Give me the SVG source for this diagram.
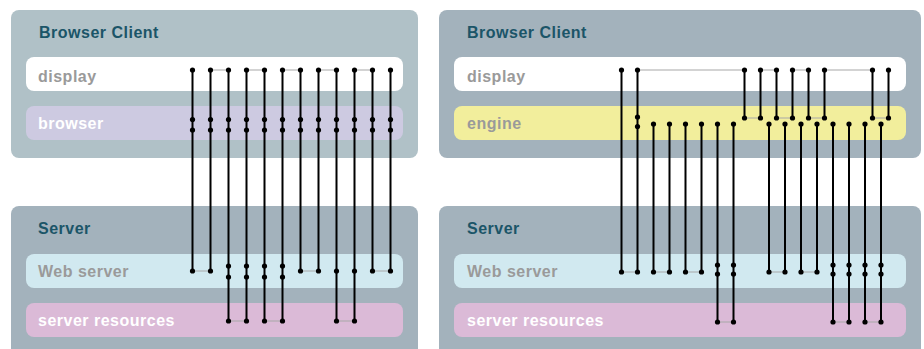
<svg xmlns="http://www.w3.org/2000/svg" width="924" height="349" viewBox="0 0 924 349">
<style>
.title{font-family:"Liberation Sans",Arial,sans-serif;font-weight:bold;font-size:16px;letter-spacing:0.5px;fill:#1b5568}
.lbl{font-family:"Liberation Sans",Arial,sans-serif;font-weight:bold;font-size:16px;letter-spacing:0.5px}
.g{fill:#9a9a9a}
.w{fill:#ffffff}
.v{stroke:#000;stroke-width:2;fill:none}
.h{stroke:#a8a8a8;stroke-width:1.2;fill:none}
.d{fill:#000}
</style>
<rect width="924" height="349" fill="#ffffff"/>
<g id="left-client">
<rect x="11" y="10" width="407" height="148" rx="8" fill="#b0c1c7"/>
<text class="title" x="39" y="38">Browser Client</text>
</g>
<g id="left-display">
<rect x="26" y="57" width="377" height="34" rx="8" fill="#ffffff"/>
<text class="lbl g" x="38" y="82">display</text>
</g>
<g id="left-browser">
<rect x="26" y="106" width="377" height="34" rx="8" fill="#cdcae1"/>
<text class="lbl w" x="38" y="129">browser</text>
</g>
<g id="left-server">
<rect x="11" y="206" width="407" height="150" rx="8" fill="#a3b2bc"/>
<text class="title" x="38" y="234">Server</text>
</g>
<g id="left-webserver">
<rect x="26" y="254" width="377" height="34" rx="8" fill="#d1e9f0"/>
<text class="lbl g" x="38" y="277">Web server</text>
</g>
<g id="left-resources">
<rect x="26" y="303" width="377" height="34" rx="8" fill="#dbbad7"/>
<text class="lbl w" x="38" y="326">server resources</text>
</g>
<g id="right-client">
<rect x="439" y="10" width="482" height="148" rx="8" fill="#a3b2bc"/>
<text class="title" x="467" y="38">Browser Client</text>
</g>
<g id="right-display">
<rect x="454" y="57" width="452" height="34" rx="8" fill="#ffffff"/>
<text class="lbl g" x="467" y="82">display</text>
</g>
<g id="right-engine">
<rect x="454" y="106" width="452" height="34" rx="8" fill="#f2ee9c"/>
<text class="lbl g" x="467" y="129">engine</text>
</g>
<g id="right-server">
<rect x="439" y="206" width="482" height="150" rx="8" fill="#a3b2bc"/>
<text class="title" x="467" y="234">Server</text>
</g>
<g id="right-webserver">
<rect x="454" y="254" width="452" height="34" rx="8" fill="#d1e9f0"/>
<text class="lbl g" x="467" y="277">Web server</text>
</g>
<g id="right-resources">
<rect x="454" y="303" width="452" height="34" rx="8" fill="#dbbad7"/>
<text class="lbl w" x="467" y="326">server resources</text>
</g>
<g id="connectors">
<g class="h">
<path d="M210.5 70H228.5M246.5 70H264.5M282.5 70H300.5M318.5 70H336.5M354.5 70H372.5"/>
<path d="M192.5 271H210.5M300.5 271H318.5M372.5 271H390.5"/>
<path d="M228.5 321H246.5M264.5 321H282.5M336.5 321H354.5"/>
<path d="M637.5 70H744.5M760.5 70H776.5M792.5 70H808.5M824.5 70H872.5"/>
<path d="M744.5 118H760.5M776.5 118H792.5M808.5 118H824.5M872.5 118H888.5"/>
<path d="M621.5 272H637.5M653.5 272H669.5M685.5 272H701.5M769 272H785M801 272H817"/>
<path d="M717.5 322H733.5M833 322H849M865 322H881"/>
</g>
<g class="v">
<path d="M192.5 70V271M210.5 70V271M228.5 70V321M246.5 70V321M264.5 70V321M282.5 70V321M300.5 70V271M318.5 70V271M336.5 70V321M354.5 70V321M372.5 70V271M390.5 70V271"/>
<path d="M621.5 70V272M637.5 70V272M653.5 124V272M669.5 124V272M685.5 124V272M701.5 124V272M717.5 124V322M733.5 124V322"/>
<path d="M744.5 70V118M760.5 70V118M776.5 70V118M792.5 70V118M808.5 70V118M824.5 70V118M872.5 70V118M888.5 70V118"/>
<path d="M769 124V272M785 124V272M801 124V272M817 124V272M833 124V322M849 124V322M865 124V322M881 124V322"/>
</g>
<g class="d">
<!-- left display dots -->
<circle cx="192.5" cy="70" r="2.6"/><circle cx="210.5" cy="70" r="2.6"/><circle cx="228.5" cy="70" r="2.6"/><circle cx="246.5" cy="70" r="2.6"/><circle cx="264.5" cy="70" r="2.6"/><circle cx="282.5" cy="70" r="2.6"/><circle cx="300.5" cy="70" r="2.6"/><circle cx="318.5" cy="70" r="2.6"/><circle cx="336.5" cy="70" r="2.6"/><circle cx="354.5" cy="70" r="2.6"/><circle cx="372.5" cy="70" r="2.6"/><circle cx="390.5" cy="70" r="2.6"/>
<!-- left browser dots -->
<circle cx="192.5" cy="119.5" r="2.6"/><circle cx="210.5" cy="119.5" r="2.6"/><circle cx="228.5" cy="119.5" r="2.6"/><circle cx="246.5" cy="119.5" r="2.6"/><circle cx="264.5" cy="119.5" r="2.6"/><circle cx="282.5" cy="119.5" r="2.6"/><circle cx="300.5" cy="119.5" r="2.6"/><circle cx="318.5" cy="119.5" r="2.6"/><circle cx="336.5" cy="119.5" r="2.6"/><circle cx="354.5" cy="119.5" r="2.6"/><circle cx="372.5" cy="119.5" r="2.6"/><circle cx="390.5" cy="119.5" r="2.6"/>
<circle cx="192.5" cy="130" r="2.6"/><circle cx="210.5" cy="130" r="2.6"/><circle cx="228.5" cy="130" r="2.6"/><circle cx="246.5" cy="130" r="2.6"/><circle cx="264.5" cy="130" r="2.6"/><circle cx="282.5" cy="130" r="2.6"/><circle cx="300.5" cy="130" r="2.6"/><circle cx="318.5" cy="130" r="2.6"/><circle cx="336.5" cy="130" r="2.6"/><circle cx="354.5" cy="130" r="2.6"/><circle cx="372.5" cy="130" r="2.6"/><circle cx="390.5" cy="130" r="2.6"/>
<!-- left web server dots -->
<circle cx="192.5" cy="271" r="2.6"/><circle cx="210.5" cy="271" r="2.6"/><circle cx="300.5" cy="271" r="2.6"/><circle cx="318.5" cy="271" r="2.6"/><circle cx="336.5" cy="271" r="2.6"/><circle cx="354.5" cy="271" r="2.6"/><circle cx="372.5" cy="271" r="2.6"/><circle cx="390.5" cy="271" r="2.6"/>
<circle cx="228.5" cy="266" r="2.6"/><circle cx="246.5" cy="266" r="2.6"/><circle cx="264.5" cy="266" r="2.6"/><circle cx="282.5" cy="266" r="2.6"/>
<circle cx="228.5" cy="277" r="2.6"/><circle cx="246.5" cy="277" r="2.6"/><circle cx="264.5" cy="277" r="2.6"/><circle cx="282.5" cy="277" r="2.6"/>
<!-- left resources dots -->
<circle cx="228.5" cy="321" r="2.6"/><circle cx="246.5" cy="321" r="2.6"/><circle cx="264.5" cy="321" r="2.6"/><circle cx="282.5" cy="321" r="2.6"/><circle cx="336.5" cy="321" r="2.6"/><circle cx="354.5" cy="321" r="2.6"/>
<!-- right display dots -->
<circle cx="621.5" cy="70" r="2.6"/><circle cx="637.5" cy="70" r="2.6"/><circle cx="744.5" cy="70" r="2.6"/><circle cx="760.5" cy="70" r="2.6"/><circle cx="776.5" cy="70" r="2.6"/><circle cx="792.5" cy="70" r="2.6"/><circle cx="808.5" cy="70" r="2.6"/><circle cx="824.5" cy="70" r="2.6"/><circle cx="872.5" cy="70" r="2.6"/><circle cx="888.5" cy="70" r="2.6"/>
<!-- right engine dots -->
<circle cx="637.5" cy="117" r="2.6"/><circle cx="637.5" cy="126.5" r="2.6"/>
<circle cx="744.5" cy="118" r="2.6"/><circle cx="760.5" cy="118" r="2.6"/><circle cx="776.5" cy="118" r="2.6"/><circle cx="792.5" cy="118" r="2.6"/><circle cx="808.5" cy="118" r="2.6"/><circle cx="824.5" cy="118" r="2.6"/><circle cx="872.5" cy="118" r="2.6"/><circle cx="888.5" cy="118" r="2.6"/>
<circle cx="653.5" cy="124" r="2.6"/><circle cx="669.5" cy="124" r="2.6"/><circle cx="685.5" cy="124" r="2.6"/><circle cx="701.5" cy="124" r="2.6"/><circle cx="717.5" cy="124" r="2.6"/><circle cx="733.5" cy="124" r="2.6"/>
<circle cx="769" cy="124" r="2.6"/><circle cx="785" cy="124" r="2.6"/><circle cx="801" cy="124" r="2.6"/><circle cx="817" cy="124" r="2.6"/><circle cx="833" cy="124" r="2.6"/><circle cx="849" cy="124" r="2.6"/><circle cx="865" cy="124" r="2.6"/><circle cx="881" cy="124" r="2.6"/>
<!-- right web server dots -->
<circle cx="621.5" cy="272" r="2.6"/><circle cx="637.5" cy="272" r="2.6"/><circle cx="653.5" cy="272" r="2.6"/><circle cx="669.5" cy="272" r="2.6"/><circle cx="685.5" cy="272" r="2.6"/><circle cx="701.5" cy="272" r="2.6"/>
<circle cx="769" cy="272" r="2.6"/><circle cx="785" cy="272" r="2.6"/><circle cx="801" cy="272" r="2.6"/><circle cx="817" cy="272" r="2.6"/>
<circle cx="717.5" cy="265" r="2.6"/><circle cx="733.5" cy="265" r="2.6"/><circle cx="833" cy="265" r="2.6"/><circle cx="849" cy="265" r="2.6"/><circle cx="865" cy="265" r="2.6"/><circle cx="881" cy="265" r="2.6"/>
<circle cx="717.5" cy="274" r="2.6"/><circle cx="733.5" cy="274" r="2.6"/><circle cx="833" cy="274" r="2.6"/><circle cx="849" cy="274" r="2.6"/><circle cx="865" cy="274" r="2.6"/><circle cx="881" cy="274" r="2.6"/>
<!-- right resources dots -->
<circle cx="717.5" cy="322" r="2.6"/><circle cx="733.5" cy="322" r="2.6"/><circle cx="833" cy="322" r="2.6"/><circle cx="849" cy="322" r="2.6"/><circle cx="865" cy="322" r="2.6"/><circle cx="881" cy="322" r="2.6"/>
</g>
</g>
</svg>
